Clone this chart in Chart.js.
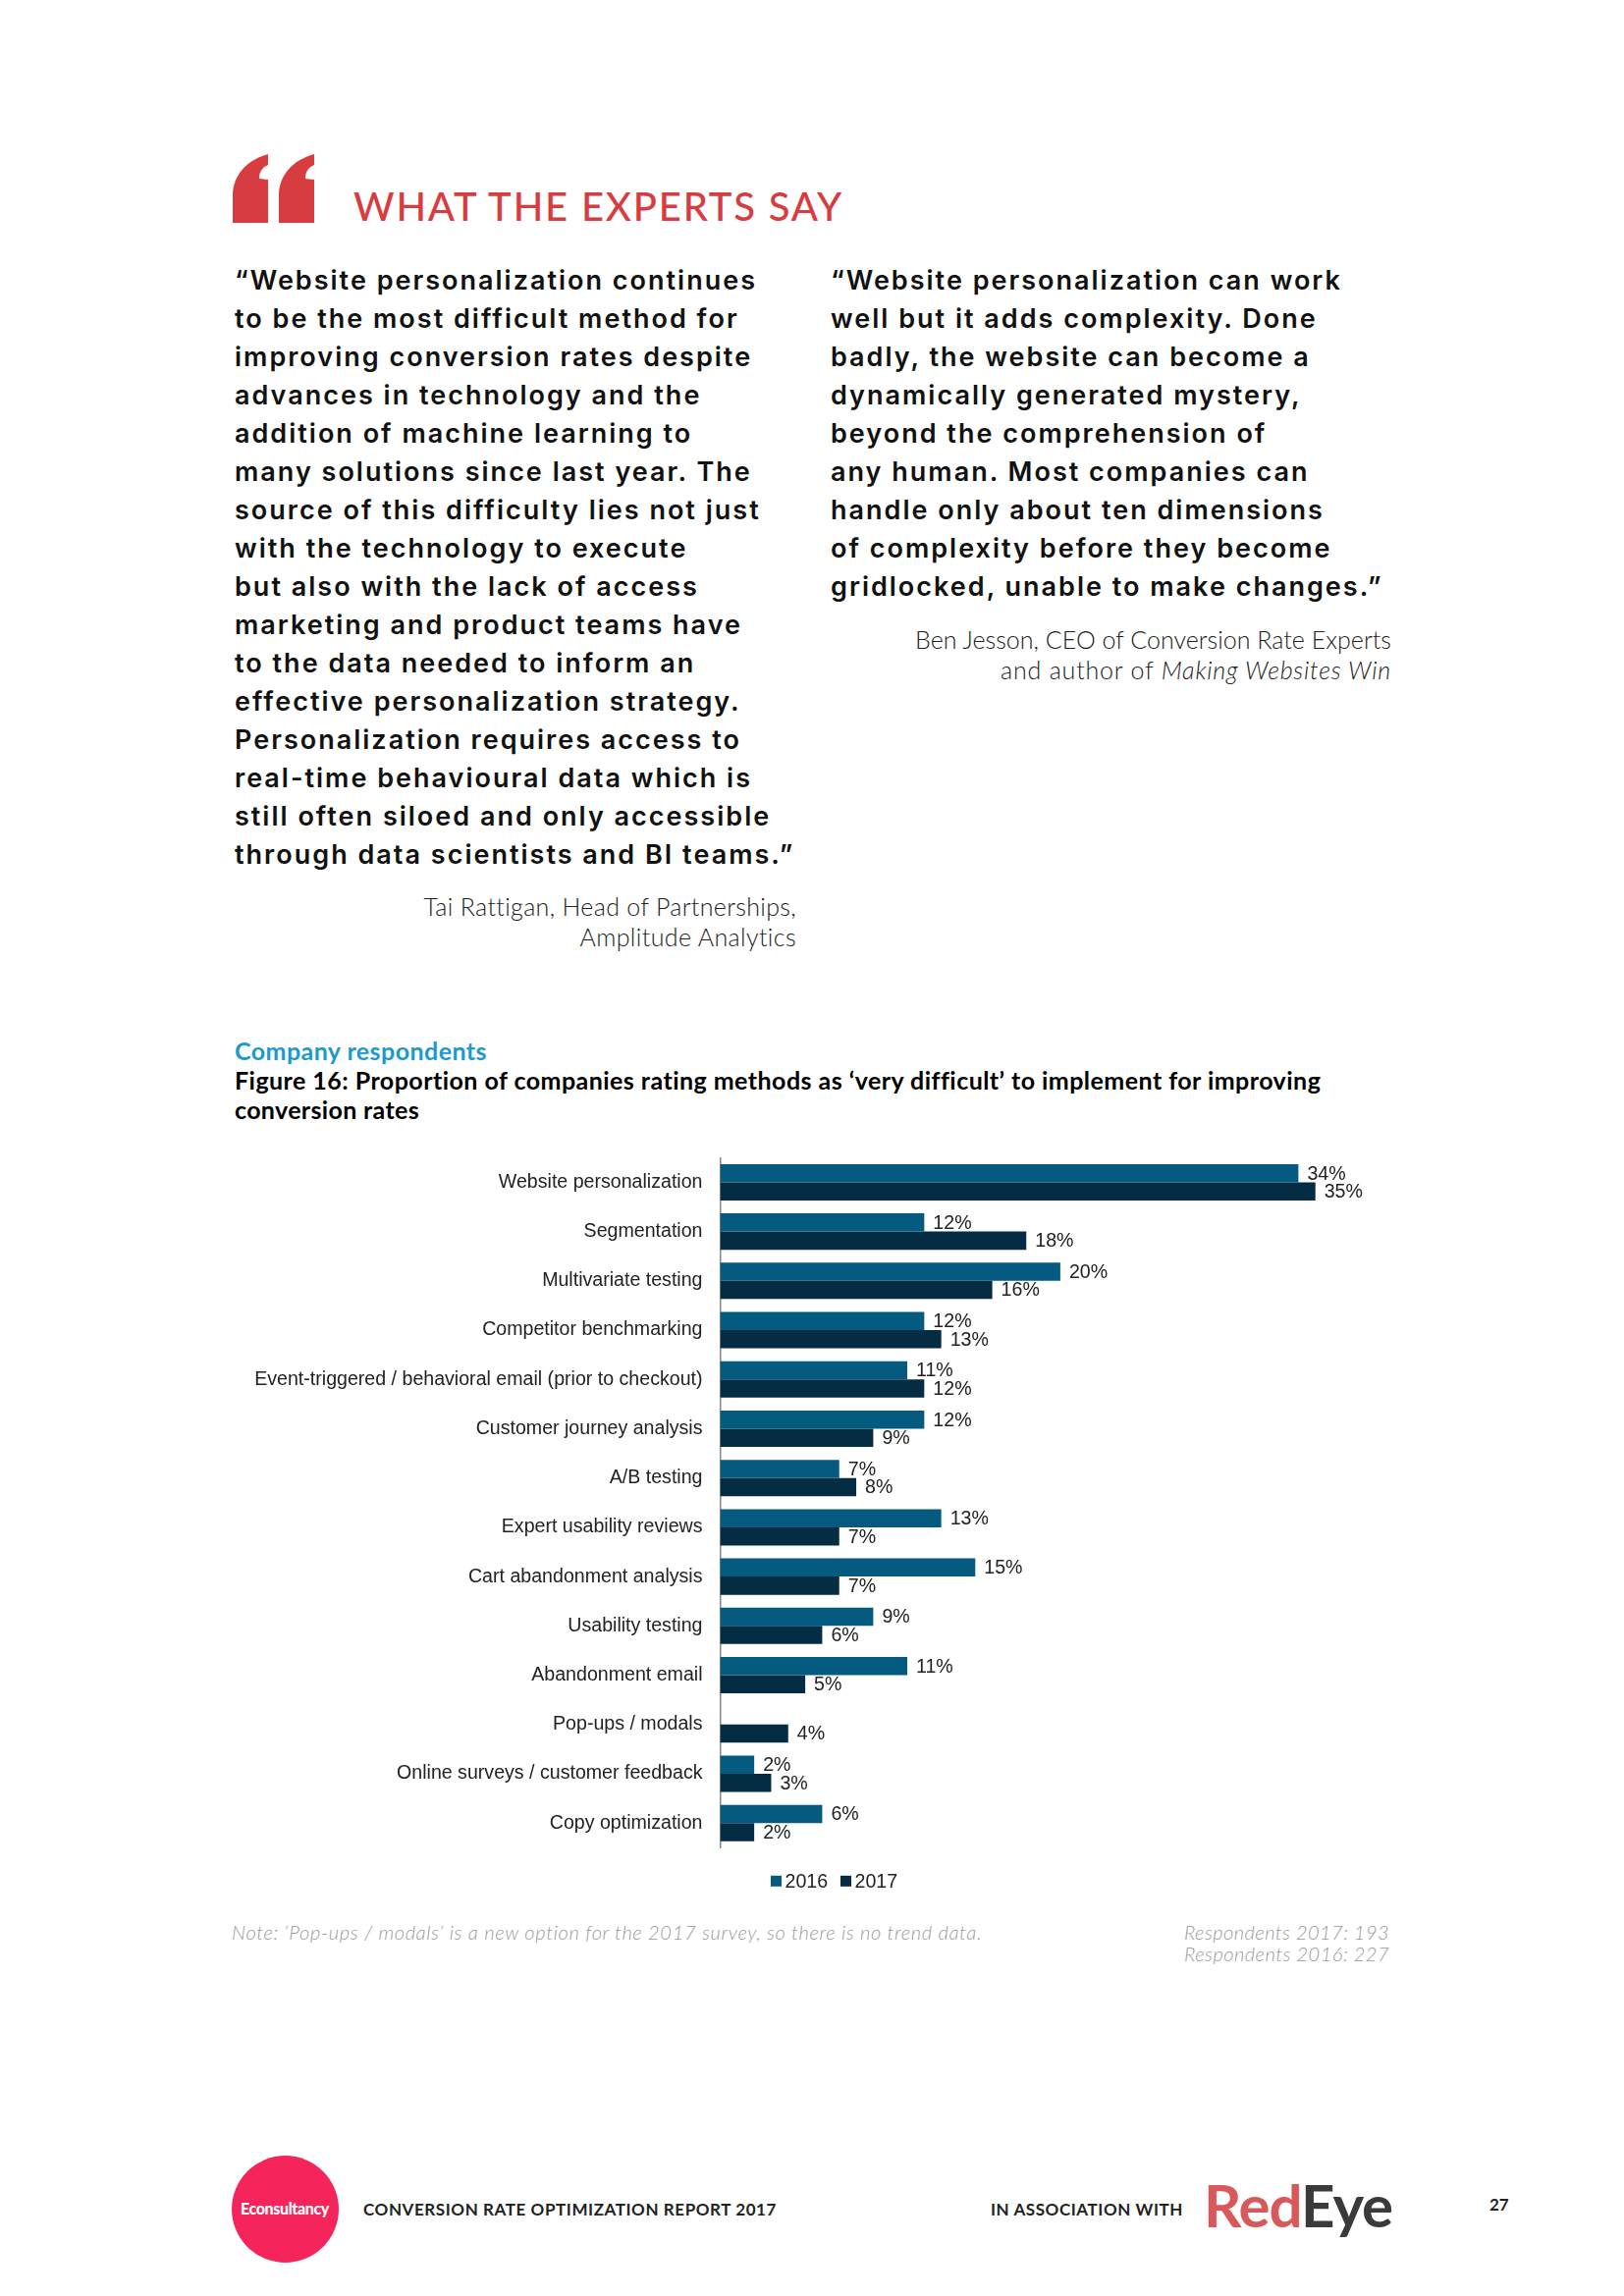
<!DOCTYPE html>
<html><head><meta charset="utf-8">
<script src="https://cdn.jsdelivr.net/npm/chart.js@4/dist/chart.umd.min.js"></script>
<style>
html,body{margin:0;padding:0;background:#fff}
#page{position:relative;width:1654px;height:2339px;overflow:hidden;background:#fff}
.t{position:absolute;white-space:nowrap;margin:0}
.q{font-family:Inter,sans-serif;font-weight:600;font-size:27px;line-height:39px;color:#111}
.a{font-family:Lato,sans-serif;font-weight:300;font-size:25px;line-height:31px;color:#222;text-align:right}
.n{font-family:Lato,sans-serif;font-weight:300;font-style:italic;font-size:20px;line-height:22px;color:#9a9a9a}
.f{font-family:Lato,sans-serif;font-weight:700;font-size:17px;line-height:20px;color:#222}
.fit.l{display:inline-block}
canvas{position:absolute;left:240px;top:1170px}
</style></head><body><div id="page">
<svg class="t" style="left:237px;top:157px" width="84" height="70" viewBox="0 0 84 70"><path fill="#d63c40" d="M0 70V42C0 22 14 6 36 0V11C29 14 27 19 27 25L36 26V70ZM47 70V42C47 22 61 6 83 0V11C76 14 74 19 74 25L83 26V70Z"/></svg>
<div class="t fit" data-w="499" style="left:360px;top:186px;font:500 40px/48px Lato,sans-serif;color:#d63c40">WHAT THE EXPERTS SAY</div>
<div class="t q" style="left:239px;top:266px">“Website personalization continues<br>to be the most difficult method for<br>improving conversion rates despite<br>advances in technology and the<br>addition of machine learning to<br>many solutions since last year. The<br>source of this difficulty lies not just<br>with the technology to execute<br>but also with the lack of access<br>marketing and product teams have<br>to the data needed to inform an<br>effective personalization strategy.<br>Personalization requires access to<br>real-time behavioural data which is<br>still often siloed and only accessible<br>through data scientists and BI teams.”</div>
<div class="t q" style="left:846px;top:266px">“Website personalization can work<br>well but it adds complexity. Done<br>badly, the website can become a<br>dynamically generated mystery,<br>beyond the comprehension of<br>any human. Most companies can<br>handle only about ten dimensions<br>of complexity before they become<br>gridlocked, unable to make changes.”</div>
<div class="t a" style="right:843px;top:908px"><span class="fit l" data-w="379">Tai Rattigan, Head of Partnerships,</span><br><span class="fit l" data-w="221">Amplitude Analytics</span></div>
<div class="t a" style="right:237px;top:636px"><span class="fit l" data-w="485">Ben Jesson, CEO of Conversion Rate Experts</span><br><span class="fit l" data-w="398">and author of <i>Making Websites Win</i></span></div>
<div class="t fit" data-w="257" style="left:239px;top:1055px;font:700 25px/30px Lato,sans-serif;color:#1b9ad0">Company respondents</div>
<div class="t fit" data-w="1106" style="left:239px;top:1085px;font:700 25px/30px Lato,sans-serif;color:#000">Figure 16: Proportion of companies rating methods as ‘very difficult’ to implement for improving</div>
<div class="t fit" data-w="188" style="left:239px;top:1115px;font:700 25px/30px Lato,sans-serif;color:#000">conversion rates</div>
<canvas id="c" width="1219" height="769"></canvas>
<div class="t n fit" data-w="764" style="left:236px;top:1957px">Note: ‘Pop-ups / modals’ is a new option for the 2017 survey, so there is no trend data.</div>
<div class="t n" style="left:1206px;top:1957px"><span class="fit l" data-w="209">Respondents 2017: 193</span><br><span class="fit l" data-w="209">Respondents 2016: 227</span></div>
<div class="t" style="left:236px;top:2196px;width:109px;height:109px;border-radius:50%;background:#f5245a"></div>
<div class="t fit" data-w="90" style="left:245px;top:2240px;font:900 16px/20px Lato,sans-serif;color:#fff">Econsultancy</div>
<div class="t f fit" data-w="421" style="left:370px;top:2241px">CONVERSION RATE OPTIMIZATION REPORT 2017</div>
<div class="t f fit" data-w="196" style="left:1009px;top:2241px">IN ASSOCIATION WITH</div>
<div class="t fit" data-w="192" style="left:1226px;top:2210px;font:700 60px/72px Lato,sans-serif;color:#3a3a3a"><span style="color:#d9585a">Red</span>Eye</div>
<div class="t f" style="left:1517px;top:2236px">27</div>
</div>
<script>
const categories = ["Website personalization","Segmentation","Multivariate testing","Competitor benchmarking","Event-triggered / behavioral email (prior to checkout)","Customer journey analysis","A/B testing","Expert usability reviews","Cart abandonment analysis","Usability testing","Abandonment email","Pop-ups / modals","Online surveys / customer feedback","Copy optimization"];
const values2016 = [34,12,20,12,11,12,7,13,15,9,11,null,2,6];
const values2017 = [35,18,16,13,12,9,8,7,7,6,5,4,3,2];
const seriesNames = ["2016","2017"];

function fitWidths(){
  document.querySelectorAll('.fit').forEach(el=>{
    const w=+el.dataset.w, n=el.textContent.length;
    el.style.letterSpacing='0px';
    const natural=el.getBoundingClientRect().width;
    el.style.letterSpacing=((w-natural)/n)+'px';
  });
  const probe=document.createElement('span');
  probe.className='t q';probe.textContent='“Website personalization continues';
  document.getElementById('page').appendChild(probe);
  const nat=probe.getBoundingClientRect().width;
  const ls=((532-nat)/probe.textContent.length)+'px';
  probe.remove();
  document.querySelectorAll('.q').forEach(e=>e.style.letterSpacing=ls);
}
fitWidths();

const labelFont='Liberation Sans, Arial, sans-serif';
const dataLabels={id:'dataLabels',afterDatasetsDraw(chart){
  const ctx=chart.ctx;ctx.save();
  ctx.font='19.6px '+labelFont;ctx.fillStyle='#222';ctx.textAlign='left';ctx.textBaseline='middle';
  chart.data.datasets.forEach((ds,i)=>{
    chart.getDatasetMeta(i).data.forEach((el,j)=>{
      if(ds.data[j]!=null)ctx.fillText(ds.data[j]+'%',el.x+9,el.y+1);
    });
  });
  ctx.restore();
}};
const compactLegend={id:'compactLegend',afterDraw(chart){
  const ctx=chart.ctx, area=chart.chartArea;ctx.save();
  ctx.font='19.6px '+labelFont;ctx.textAlign='left';ctx.textBaseline='middle';
  let x=area.left+51.5;
  const cy=area.bottom+34;
  chart.data.datasets.forEach(ds=>{
    ctx.fillStyle=ds.backgroundColor;ctx.fillRect(x,cy-5.5,11,11);
    ctx.fillStyle='#222';ctx.fillText(ds.label,x+14.5,cy+1);
    x+=71;
  });
  ctx.restore();
}};
new Chart(document.getElementById('c'),{
  type:'bar',
  data:{labels:categories,datasets:[
    {label:seriesNames[0],data:values2016,backgroundColor:'#055a80',categoryPercentage:0.737,barPercentage:1},
    {label:seriesNames[1],data:values2017,backgroundColor:'#042d43',categoryPercentage:0.737,barPercentage:1}
  ]},
  options:{
    indexAxis:'y',responsive:false,animation:false,
    layout:{padding:{top:9.3,right:32.7,left:0,bottom:56.7}},
    scales:{
      x:{display:false,min:0,max:40},
      y:{
        afterFit(s){s.width=493.5;s.paddingTop=0;s.paddingBottom=0},
        grid:{display:false,drawTicks:false},
        border:{display:true,color:'#868686',width:1.5},
        ticks:{padding:18,color:'#222',autoSkip:false,font:{family:labelFont,size:19.6}}
      }
    },
    plugins:{tooltip:{enabled:false},legend:{display:false}}
  },
  plugins:[dataLabels,compactLegend]
});
</script></body></html>
